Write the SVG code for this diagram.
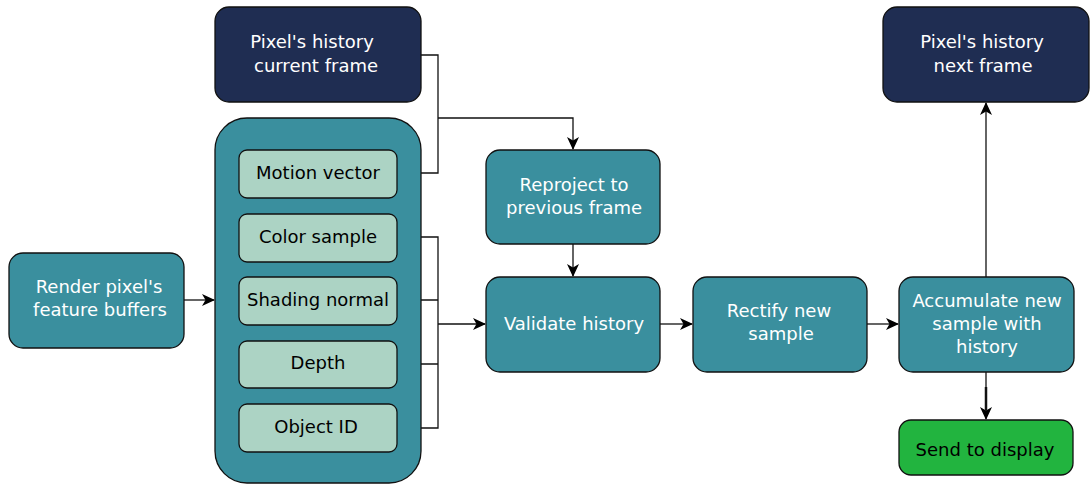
<svg xmlns="http://www.w3.org/2000/svg" width="1090" height="484" viewBox="0 0 1090 484">
  <style>
    .box { stroke: #111; stroke-width: 1.3; }
    .teal { fill: #3a8f9e; }
    .navy { fill: #1f2d52; }
    .mint { fill: #acd3c4; }
    .green { fill: #22b43f; }
    text { font-family: "DejaVu Sans", Verdana, sans-serif; font-size: 18px; text-anchor: middle; }
    .lt { fill: #ffffff; }
    .dk { fill: #000000; }
    .wire { fill: none; stroke: #111; stroke-width: 1.3; }
  </style>
  <defs>
    <marker id="arrow" viewBox="0 0 13 12" refX="12" refY="6" markerWidth="13" markerHeight="12" markerUnits="userSpaceOnUse" orient="auto">
      <path d="M0,0 L13,6 L0,12 L3.5,6 Z" fill="#000"/>
    </marker>
  </defs>

  <!-- connectors -->
  <g id="connectors">
    <path class="wire" d="M421,55 H438 V173 H397"/>
    <path class="wire" d="M438,118 H573 V149" marker-end="url(#arrow)"/>
    <path class="wire" d="M397,237 H438 V428 H397"/>
    <path class="wire" d="M397,300 H438"/>
    <path class="wire" d="M397,364 H438"/>
    <path class="wire" d="M438,324 H485" marker-end="url(#arrow)"/>
    <path class="wire" d="M184,300 H214" marker-end="url(#arrow)"/>
    <path class="wire" d="M573,244 V276" marker-end="url(#arrow)"/>
    <path class="wire" d="M660,324 H692" marker-end="url(#arrow)"/>
    <path class="wire" d="M867,324 H898" marker-end="url(#arrow)"/>
    <path class="wire" d="M986,277 V103" marker-end="url(#arrow)"/>
    <path class="wire" d="M986,372 V419" marker-end="url(#arrow)"/>
    <path fill="none" stroke="#111" stroke-width="2.5" d="M986,387 V410"/>
  </g>

  <g id="history-current">
    <rect class="box navy" x="215" y="7" width="206" height="95" rx="14"/>
    <text class="lt" x="312" y="48">Pixel's history</text>
    <text class="lt" x="316" y="72">current frame</text>
  </g>

  <g id="feature-buffers">
    <rect class="box teal" x="215" y="118" width="206" height="365" rx="32"/>
  </g>

  <g id="motion-vector">
    <rect class="box mint" x="239" y="150" width="158" height="48" rx="8"/>
    <text class="dk" x="318" y="179">Motion vector</text>
  </g>
  <g id="color-sample">
    <rect class="box mint" x="239" y="214" width="158" height="48" rx="8"/>
    <text class="dk" x="318" y="243">Color sample</text>
  </g>
  <g id="shading-normal">
    <rect class="box mint" x="239" y="277" width="158" height="48" rx="8"/>
    <text class="dk" x="318" y="306">Shading normal</text>
  </g>
  <g id="depth">
    <rect class="box mint" x="239" y="341" width="158" height="47" rx="8"/>
    <text class="dk" x="318" y="369">Depth</text>
  </g>
  <g id="object-id">
    <rect class="box mint" x="239" y="404" width="158" height="48" rx="8"/>
    <text class="dk" x="316" y="433">Object ID</text>
  </g>

  <g id="render">
    <rect class="box teal" x="9" y="253" width="175" height="95" rx="14"/>
    <text class="lt" x="99" y="293">Render pixel's</text>
    <text class="lt" x="100" y="316">feature buffers</text>
  </g>

  <g id="reproject">
    <rect class="box teal" x="486" y="150" width="174" height="94" rx="14"/>
    <text class="lt" x="574" y="191">Reproject to</text>
    <text class="lt" x="574" y="214">previous frame</text>
  </g>

  <g id="validate">
    <rect class="box teal" x="486" y="277" width="174" height="95" rx="14"/>
    <text class="lt" x="574" y="330">Validate history</text>
  </g>

  <g id="rectify">
    <rect class="box teal" x="693" y="277" width="174" height="95" rx="14"/>
    <text class="lt" x="779" y="317">Rectify new</text>
    <text class="lt" x="781" y="340">sample</text>
  </g>

  <g id="accumulate">
    <rect class="box teal" x="899" y="277" width="175" height="95" rx="14"/>
    <text class="lt" x="987" y="307">Accumulate new</text>
    <text class="lt" x="987" y="330">sample with</text>
    <text class="lt" x="987" y="353">history</text>
  </g>

  <g id="history-next">
    <rect class="box navy" x="883" y="7" width="206" height="95" rx="14"/>
    <text class="lt" x="982" y="48">Pixel's history</text>
    <text class="lt" x="983" y="72">next frame</text>
  </g>

  <g id="display">
    <rect class="box green" x="899" y="420" width="174" height="55" rx="12"/>
    <text class="dk" x="985" y="456">Send to display</text>
  </g>
</svg>
